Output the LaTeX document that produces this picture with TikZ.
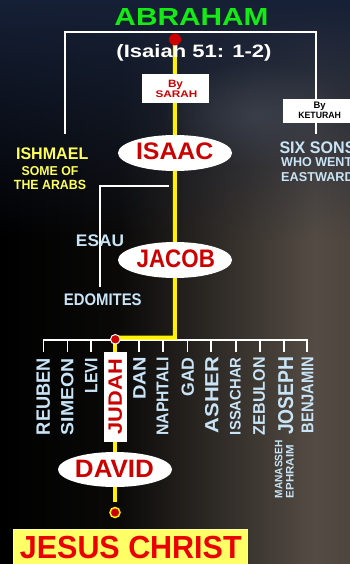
\documentclass[tikz,border=0pt]{standalone}
\usepackage{fontspec}
\setmainfont{Liberation Sans}
\usepackage{graphicx}
\usetikzlibrary{shapes.geometric,fadings}
\definecolor{abgreen}{RGB}{20,235,20}
\definecolor{myred}{RGB}{204,0,0}
\definecolor{jred}{RGB}{235,0,0}
\definecolor{lblue}{RGB}{200,228,246}
\definecolor{ishyel}{RGB}{255,255,90}
\definecolor{jbox}{RGB}{255,255,102}
\definecolor{bgbrown}{RGB}{84,76,68}
\definecolor{bgnavy}{RGB}{22,32,54}
\definecolor{bgcloud}{RGB}{72,78,90}
\newcommand{\fb}[3]{\resizebox{#1pt}{#2pt}{#3}}
\pgfdeclarelayer{bgl}
\pgfdeclarelayer{lines}
\pgfsetlayers{bgl,lines,main}
\tikzfading[name=fadedown, top color=transparent!0, bottom color=transparent!100]
\tikzfading[name=softcirc, inner color=transparent!0, outer color=transparent!100]
\pgfdeclarehorizontalshading{bgh}{100bp}{color(0bp)=(black); color(25bp)=(black); color(42bp)=(black!88!bgbrown); color(70bp)=(bgbrown); color(75bp)=(bgbrown!92!black); color(100bp)=(bgbrown!92!black)}
\tikzset{
  lbl/.style={inner sep=0pt, font=\bfseries},
  tribe/.style={lbl, rotate=90, text=lblue},
  oval/.style={ellipse, fill=white, inner sep=0pt, minimum width=114pt, minimum height=36pt},
  wline/.style={draw=white, line width=1.3pt},
  yline/.style={draw=yellow, line width=4pt},
  combline/.style={draw=white, line width=1.8pt},
  whitebox/.style={fill=white, inner sep=0pt}
}
\begin{document}
\begin{tikzpicture}[x=1pt,y=-1pt]
\useasboundingbox (0,0) rectangle (350,564);
\clip (0,0) rectangle (350,564);
\begin{pgfonlayer}{bgl}
  \fill[black] (0,0) rectangle (350,564);
  \shade[shading=bgh] (0,0) rectangle (350,564);
  \fill[bgnavy, path fading=fadedown] (0,0) rectangle (350,240);
  \fill[bgcloud, path fading=softcirc, fill opacity=0.55] (255,115) ellipse (95 and 55);
\end{pgfonlayer}

% headings
\node[lbl, text=abgreen] (abraham) at (191.5,17) {\fb{154}{17}{ABRAHAM}};
\node[lbl, text=white] (isaiah) at (194,52.7) {\resizebox*{155pt}{16.7pt}{(Isaiah 51: 1-2)}};
\node[circle, fill=myred, inner sep=0pt, minimum size=12pt] (topdot) at (175,39.5) {};

% wives
\node[whitebox, minimum width=67pt, minimum height=29pt] (sarahbox) at (175.5,88.5) {};
\node[lbl, text=myred, anchor=base] (sarahby) at (175.5,87.3) {\fb{15}{7.3}{By}};
\node[lbl, text=myred, anchor=base] (sarahname) at (176.5,97.7) {\fb{41.7}{6.7}{SARAH}};
\node[whitebox, minimum width=73pt, minimum height=24pt] (keturahbox) at (319.5,111) {};
\node[lbl, text=black, anchor=base] (keturahby) at (319.5,108.3) {\fb{12}{6.5}{By}};
\node[lbl, text=black, anchor=base] (keturahname) at (319.7,119) {\fb{42.7}{6.3}{KETURAH}};

% side lines
\node[lbl, text=ishyel] (ishmael) at (52.2,154.2) {\fb{72.3}{11.7}{ISHMAEL}};
\node[lbl, text=ishyel] (ishmaelA) at (50,171.2) {\fb{56.7}{9}{SOME OF}};
\node[lbl, text=ishyel] (ishmaelB) at (50,185.3) {\fb{72}{9.3}{THE ARABS}};
\node[lbl, text=lblue, anchor=west] (sixsons) at (279.3,147.5) {\fb{76}{11.7}{SIX SONS}};
\node[lbl, text=lblue, anchor=west] (sixsonsA) at (281,162.5) {\fb{71}{9}{WHO WENT}};
\node[lbl, text=lblue, anchor=west] (sixsonsB) at (281,177.5) {\fb{72.6}{9}{EASTWARD}};
\node[lbl, text=lblue] (esau) at (100,240.8) {\fb{48}{11.7}{ESAU}};
\node[lbl, text=lblue] (edomites) at (102.8,300.2) {\fb{77.7}{11.7}{EDOMITES}};

% patriarchs
\node[oval] (isaac) at (175,153) {};
\node[lbl, text=myred] (isaactext) at (174.7,151.7) {\fb{77.3}{16.7}{ISAAC}};
\node[oval] (jacob) at (175,260) {};
\node[lbl, text=myred] (jacobtext) at (175.8,258.8) {\fb{78.3}{17.7}{JACOB}};

% tribes
\node[tribe] (reuben) at (43.3,396.7) {\fb{76.7}{13.3}{REUBEN}};
\node[tribe] (simeon) at (67.2,396.7) {\fb{76.7}{12.3}{SIMEON}};
\node[tribe] (levi) at (91.2,375.8) {\fb{35}{12.3}{LEVI}};
\node[tribe, text=myred, fill=white, minimum width=90pt, minimum height=23.4pt] (judah) at (115.3,396.7) {\fb{75}{13.3}{JUDAH}};
\node[tribe] (dan) at (139.5,378.3) {\fb{43.3}{12.3}{DAN}};
\node[tribe] (naphtali) at (162.5,396.5) {\fb{78.3}{11.7}{NAPHTALI}};
\node[tribe] (gad) at (187.8,377) {\fb{39.3}{12.3}{GAD}};
\node[tribe] (asher) at (211.7,395) {\fb{76.7}{13.3}{ASHER}};
\node[tribe] (issachar) at (235.3,396.2) {\fb{77.7}{10.7}{ISSACHAR}};
\node[tribe] (zebulon) at (259.2,396.2) {\fb{77.7}{11.7}{ZEBULON}};
\node[tribe] (joseph) at (285.8,395.8) {\fb{78.3}{15}{JOSEPH}};
\node[tribe] (benjamin) at (307.5,395) {\fb{76.7}{11.7}{BENJAMIN}};
\node[tribe] (manasseh) at (278.7,469.2) {\fb{58}{7.5}{MANASSEH}};
\node[tribe] (ephraim) at (289.8,471.7) {\fb{53}{7.5}{EPHRAIM}};
\node[circle, fill=myred, draw=white, line width=1pt, inner sep=0pt, minimum size=9.6pt] (judahdot) at (115.3,339.3) {};

% david and jesus
\node[oval, minimum height=35pt] (david) at (115,469.5) {};
\node[lbl, text=myred] (davidtext) at (114.5,468.7) {\fb{79}{17.3}{DAVID}};
\node[circle, fill=myred, draw=yellow, line width=1.5pt, inner sep=0pt, minimum size=10pt] (enddot) at (115,512.5) {};
\node[fill=jbox, draw=jbox!55!white, line width=0.8pt, inner sep=0pt, minimum width=234.4pt, minimum height=42pt] (jcbox) at (130.5,550) {};
\node[lbl, text=jred] (jesus) at (130.8,547.8) {\fb{221.7}{22.3}{JESUS CHRIST}};

% connectors
\begin{pgfonlayer}{lines}
  \coordinate (fl) at (65,134);
  \coordinate (ftl) at (65,32);
  \coordinate (ftr) at (316,32);
  \coordinate (fr) at (316,134);
  \draw[wline] (fl) -- (ftl) -- (ftr) -- (ftr |- keturahbox.north);
  \draw[wline] (ftr |- keturahbox.south) -- (fr);
  \coordinate (esauA) at (169,186);
  \coordinate (esauB) at (100,287);
  \draw[wline] (esauA) -| (esauB);
  \draw[combline] (43.5,351.5) -- (43.5,340.3) -- (307.3,340.3) -- (307.3,351.5);
  \foreach \x in {67.5,91,139.3,163.3,187.5,211.3,235.7,260,283.7}
    \draw[combline] (\x,340.3) -- (\x,351.5);
  \coordinate (ycorner) at (174.8,337.7);
  \coordinate (ytail) at (115.3,502);
  \draw[yline] (topdot.center) -- (ycorner) -| (judahdot.center);
  \draw[yline] (judahdot.center) -- (ytail);
\end{pgfonlayer}
\end{tikzpicture}
\end{document}
